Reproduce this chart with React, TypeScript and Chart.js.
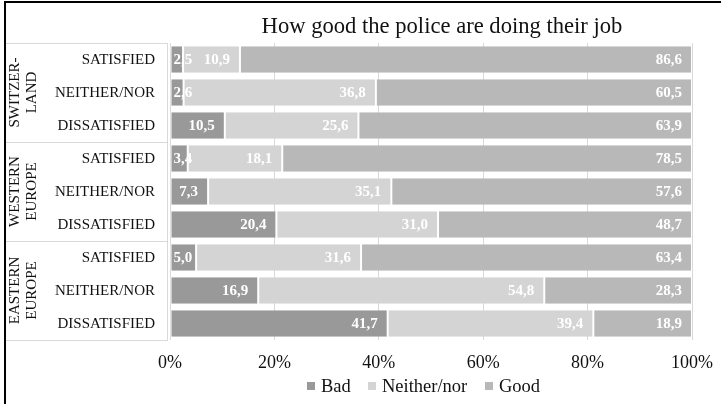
import React, { useEffect, useRef } from "react";
import { Chart, registerables } from "chart.js";

Chart.register(...registerables);

const TITLE = "How good the police are doing their job";
const GROUPS = [["SWITZER-", "LAND"], ["WESTERN", "EUROPE"], ["EASTERN", "EUROPE"]];
const ROW_LABELS = ["SATISFIED", "NEITHER/NOR", "DISSATISFIED"];
const CATEGORIES = [
  "Switzerland SATISFIED", "Switzerland NEITHER/NOR", "Switzerland DISSATISFIED",
  "Western Europe SATISFIED", "Western Europe NEITHER/NOR", "Western Europe DISSATISFIED",
  "Eastern Europe SATISFIED", "Eastern Europe NEITHER/NOR", "Eastern Europe DISSATISFIED",
];
const SERIES_NAMES = ["Bad", "Neither/nor", "Good"];
const BAD = [2.5, 2.6, 10.5, 3.4, 7.3, 20.4, 5.0, 16.9, 41.7];
const NEITHER = [10.9, 36.8, 25.6, 18.1, 35.1, 31.0, 31.6, 54.8, 39.4];
const GOOD = [86.6, 60.5, 63.9, 78.5, 57.6, 48.7, 63.4, 28.3, 18.9];
const X_TICKS = [0, 20, 40, 60, 80, 100];
const COLORS = ["#999999", "#d4d4d4", "#b8b8b8"];

const SERIF = "'Liberation Serif', 'Times New Roman', serif";
const RAW = [BAD, NEITHER, GOOD];
const TOTALS = CATEGORIES.map((_, i) => BAD[i] + NEITHER[i] + GOOD[i]);
const SHARES = RAW.map((arr) => arr.map((v, i) => (v / TOTALS[i]) * 100));
const fmt = (v: number) => v.toFixed(1).replace(".", ",");

const LEGEND_X = [307, 368, 485];

const decor = {
  id: "decor",
  afterDraw(chart: any) {
    const ctx = chart.ctx as CanvasRenderingContext2D;
    const area = chart.chartArea;
    ctx.save();

    // data labels
    ctx.font = `bold 15px ${SERIF}`;
    ctx.fillStyle = "#ffffff";
    ctx.textBaseline = "middle";
    ctx.textAlign = "left";
    chart.data.datasets.forEach((ds: any, di: number) => {
      const meta = chart.getDatasetMeta(di);
      meta.data.forEach((el: any, i: number) => {
        const txt = fmt(RAW[di][i]);
        const w = ctx.measureText(txt).width;
        const start = Math.min(el.x, el.base);
        const end = Math.max(el.x, el.base);
        const left = Math.max(end - 10 - w, start + 3);
        ctx.fillText(txt, left, el.y + 1);
      });
    });

    // table lines
    const yScale = chart.scales.y;
    const n = CATEGORIES.length;
    const rowH = (area.bottom - area.top) / n;
    ctx.strokeStyle = "#d9d9d9";
    ctx.lineWidth = 1;
    ctx.beginPath();
    for (let g = 0; g <= GROUPS.length; g++) {
      const y = Math.round(area.top + g * 3 * rowH) + 0.5;
      ctx.moveTo(5, y);
      ctx.lineTo(area.left - 2, y);
    }
    ctx.moveTo(area.left - 2.5, area.top);
    ctx.lineTo(area.left - 2.5, area.bottom);
    ctx.stroke();

    // row labels
    ctx.fillStyle = "#111111";
    ctx.font = `15px ${SERIF}`;
    ctx.textAlign = "right";
    ctx.textBaseline = "middle";
    for (let i = 0; i < n; i++) {
      const y = yScale.getPixelForValue(i);
      ctx.fillText(ROW_LABELS[i % 3], 155, y + 1);
    }

    // group labels
    ctx.textAlign = "center";
    GROUPS.forEach((lines, g) => {
      const cy = area.top + (g * 3 + 1.5) * rowH;
      ctx.save();
      ctx.translate(23.5, cy);
      ctx.rotate(-Math.PI / 2);
      ctx.fillText(lines[0], 0, -8.5);
      ctx.fillText(lines[1], 0, 8.5);
      ctx.restore();
    });

    // title
    ctx.font = `22.6px ${SERIF}`;
    ctx.textAlign = "center";
    ctx.textBaseline = "alphabetic";
    ctx.fillText(TITLE, 442, 33);

    // legend
    ctx.font = `18.5px ${SERIF}`;
    ctx.textAlign = "left";
    ctx.textBaseline = "alphabetic";
    SERIES_NAMES.forEach((name, i) => {
      const x = LEGEND_X[i];
      ctx.fillStyle = COLORS[i];
      ctx.fillRect(x, 382, 8, 8);
      ctx.fillStyle = "#111111";
      ctx.fillText(name, x + 14, 392);
    });

    // frame
    ctx.fillStyle = "#000000";
    ctx.fillRect(4, 1, 721, 2);
    ctx.fillRect(4, 1, 2, 404);
    ctx.restore();
  },
};

export default function App() {
  const ref = useRef<HTMLCanvasElement>(null);
  useEffect(() => {
    if (!ref.current) return;
    const chart = new Chart(ref.current, {
      type: "bar",
      data: {
        labels: CATEGORIES,
        datasets: SERIES_NAMES.map((name, i) => ({
          label: name,
          data: SHARES[i],
          backgroundColor: COLORS[i],
          borderColor: "#ffffff",
          borderWidth: { left: 1, right: 1, top: 0, bottom: 0 },
          borderSkipped: false,
          categoryPercentage: 1,
          barPercentage: 0.8,
        })),
      },
      options: {
        indexAxis: "y",
        responsive: false,
        animation: false,
        layout: { padding: { left: 170, right: 29, top: 43, bottom: 24 } },
        plugins: {
          legend: { display: false },
          title: { display: false },
          tooltip: { enabled: false },
        },
        scales: {
          x: {
            stacked: true,
            min: 0,
            max: 100,
            z: 1,
            afterFit: (s: any) => {
              s.height = 40;
              s.paddingLeft = 0;
              s.paddingRight = 0;
            },
            afterBuildTicks: (s: any) => { s.ticks = X_TICKS.map((v) => ({ value: v })); },
            ticks: {
              callback: (v: any) => `${v}%`,
              font: { family: SERIF, size: 18 },
              color: "#111111",
              padding: 12,
              maxRotation: 0,
            },
            grid: { color: "#d9d9d9", drawTicks: false },
            border: { display: false },
          },
          y: {
            stacked: true,
            display: false,
          },
        },
      },
      plugins: [decor],
    } as any);
    return () => chart.destroy();
  }, []);
  return (
    <div style={{ position: "fixed", left: 0, top: 0, width: 721, height: 404, background: "#fff" }}>
      <canvas ref={ref} width={721} height={404} style={{ display: "block" }} />
    </div>
  );
}
